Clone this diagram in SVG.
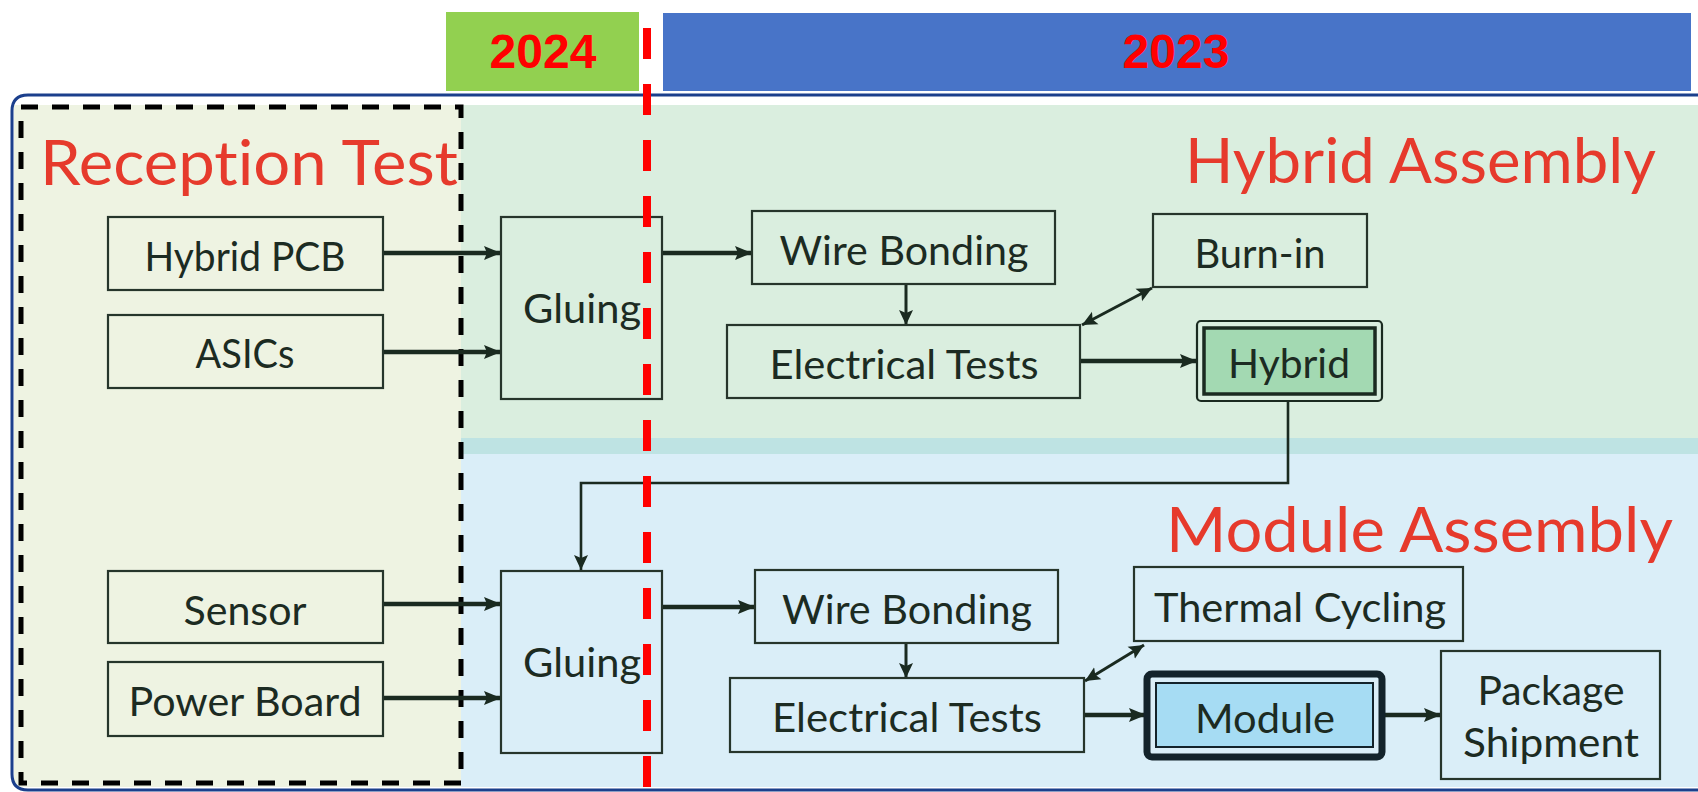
<svg xmlns="http://www.w3.org/2000/svg" width="1698" height="792" viewBox="0 0 1698 792">
<style>
.box{fill:none;stroke:#26352b;stroke-width:2.2}
.lbl{font-family:Lato,"Open Sans",sans-serif;font-size:40px;fill:#1c2b22;text-anchor:middle;font-variant-ligatures:none}
.title{font-family:Lato,"Open Sans",sans-serif;font-size:61px;fill:#e63a2c;font-variant-ligatures:none}
.year{font-family:"Liberation Sans",Arial,sans-serif;font-weight:bold;font-size:48px;fill:#ff0000;text-anchor:middle}
.arr{fill:none;stroke:#1a2a20;stroke-width:4.5}
.thin{fill:none;stroke:#1a2a20;stroke-width:3}
.link{fill:none;stroke:#1a2a20;stroke-width:2.6}
</style>
<defs>
<marker id="ah" markerUnits="userSpaceOnUse" markerWidth="18" markerHeight="18" viewBox="0 0 18 18" refX="17" refY="9" orient="auto">
<path d="M0,2 L17,9 L0,16 L3,9 Z" fill="#1a2a20"/>
</marker>
<marker id="ahs" markerUnits="userSpaceOnUse" markerWidth="16" markerHeight="16" viewBox="0 0 16 16" refX="15" refY="8" orient="auto-start-reverse">
<path d="M0,1 L15,8 L0,15 L3,8 Z" fill="#1a2a20"/>
</marker>
</defs>
<rect width="1698" height="792" fill="#ffffff"/>
<g id="panels">
<rect x="14" y="105" width="447" height="682" fill="#eef3e2"/>
<rect x="461" y="105" width="1237" height="333" fill="#daeedf"/>
<rect x="461" y="438" width="1237" height="16" fill="#bee3e3"/>
<rect x="461" y="454" width="1237" height="333" fill="#daeef8"/>
<path d="M1698,95 H28 Q12,95 12,111 V774 Q12,790 28,790 H1698" fill="none" stroke="#1b3f8c" stroke-width="3"/>
<rect x="21" y="107" width="440" height="676" fill="none" stroke="#000" stroke-width="5" stroke-dasharray="17 14"/>
</g>
<g id="years">
<rect x="446" y="12" width="193" height="79" fill="#92d050"/>
<text class="year" x="543" y="68">2024</text>
<rect x="663" y="13" width="1028" height="78" fill="#4874c8"/>
<text class="year" x="1176" y="68">2023</text>
</g>
<g id="titles">
<text class="title" x="40" y="185" textLength="418" lengthAdjust="spacingAndGlyphs">Reception Test</text>
<text class="title" x="1185" y="183" textLength="471" lengthAdjust="spacingAndGlyphs">Hybrid Assembly</text>
<text class="title" x="1166" y="552" textLength="507" lengthAdjust="spacingAndGlyphs">Module Assembly</text>
</g>
<g id="connectors">
<line class="arr" x1="383" y1="253" x2="501" y2="253" marker-end="url(#ah)"/>
<line class="arr" x1="383" y1="352" x2="501" y2="352" marker-end="url(#ah)"/>
<line class="arr" x1="662" y1="253" x2="752" y2="253" marker-end="url(#ah)"/>
<line class="thin" x1="906" y1="284" x2="906" y2="325" marker-end="url(#ahs)"/>
<line class="thin" x1="1082" y1="325" x2="1152" y2="288" marker-start="url(#ahs)" marker-end="url(#ahs)"/>
<line class="arr" x1="1080" y1="361" x2="1197" y2="361" marker-end="url(#ah)"/>
<path class="link" d="M1288,401 V483 H581 V570" marker-end="url(#ahs)"/>
<line class="arr" x1="383" y1="604" x2="501" y2="604" marker-end="url(#ah)"/>
<line class="arr" x1="383" y1="698" x2="501" y2="698" marker-end="url(#ah)"/>
<line class="arr" x1="662" y1="607" x2="755" y2="607" marker-end="url(#ah)"/>
<line class="thin" x1="906" y1="643" x2="906" y2="678" marker-end="url(#ahs)"/>
<line class="thin" x1="1085" y1="681" x2="1144" y2="645" marker-start="url(#ahs)" marker-end="url(#ahs)"/>
<line class="arr" x1="1084" y1="715" x2="1146" y2="715" marker-end="url(#ah)"/>
<line class="arr" x1="1383" y1="715" x2="1441" y2="715" marker-end="url(#ah)"/>
</g>
<g id="hybrid-pcb"><rect class="box" x="108" y="217" width="275" height="73"/><text class="lbl" x="245" y="271" textLength="201" lengthAdjust="spacingAndGlyphs">Hybrid PCB</text></g>
<g id="asics"><rect class="box" x="108" y="315" width="275" height="73"/><text class="lbl" x="245" y="368" textLength="99" lengthAdjust="spacingAndGlyphs">ASICs</text></g>
<g id="sensor"><rect class="box" x="108" y="571" width="275" height="72"/><text class="lbl" x="245" y="625" textLength="123" lengthAdjust="spacingAndGlyphs">Sensor</text></g>
<g id="power-board"><rect class="box" x="108" y="662" width="275" height="74"/><text class="lbl" x="245" y="716" textLength="233" lengthAdjust="spacingAndGlyphs">Power Board</text></g>
<g id="gluing-hybrid"><rect class="box" x="501" y="217" width="161" height="182"/><text class="lbl" x="582" y="323" textLength="118" lengthAdjust="spacingAndGlyphs">Gluing</text></g>
<g id="gluing-module"><rect class="box" x="501" y="571" width="161" height="182"/><text class="lbl" x="582" y="677" textLength="118" lengthAdjust="spacingAndGlyphs">Gluing</text></g>
<g id="wire-bonding-hybrid"><rect class="box" x="752" y="211" width="303" height="73"/><text class="lbl" x="904" y="265" textLength="249" lengthAdjust="spacingAndGlyphs">Wire Bonding</text></g>
<g id="burn-in"><rect class="box" x="1153" y="214" width="214" height="73"/><text class="lbl" x="1260" y="268" textLength="131" lengthAdjust="spacingAndGlyphs">Burn-in</text></g>
<g id="electrical-tests-hybrid"><rect class="box" x="727" y="325" width="353" height="73"/><text class="lbl" x="904" y="379" textLength="269" lengthAdjust="spacingAndGlyphs">Electrical Tests</text></g>
<g id="hybrid">
<rect x="1197" y="321" width="185" height="80" rx="4" fill="#daeedf" stroke="#1a2a20" stroke-width="2.2"/>
<rect x="1204" y="328" width="171" height="66" fill="#a3d9b2" stroke="#1a2a20" stroke-width="3.5"/>
<text class="lbl" x="1289" y="378" textLength="122" lengthAdjust="spacingAndGlyphs">Hybrid</text>
</g>
<g id="red-line"><line x1="647" y1="28" x2="647" y2="792" stroke="#ff0000" stroke-width="8" stroke-dasharray="31 25"/></g>
<g id="wire-bonding-module"><rect class="box" x="755" y="570" width="303" height="73"/><text class="lbl" x="907" y="624" textLength="250" lengthAdjust="spacingAndGlyphs">Wire Bonding</text></g>
<g id="thermal-cycling"><rect class="box" x="1134" y="567" width="329" height="74"/><text class="lbl" x="1300" y="622" textLength="292" lengthAdjust="spacingAndGlyphs">Thermal Cycling</text></g>
<g id="electrical-tests-module"><rect class="box" x="730" y="678" width="354" height="74"/><text class="lbl" x="907" y="732" textLength="270" lengthAdjust="spacingAndGlyphs">Electrical Tests</text></g>
<g id="module">
<rect x="1147" y="674" width="235" height="83" rx="5" fill="#daeef8" stroke="#13232b" stroke-width="7"/>
<rect x="1156" y="683" width="217" height="64" fill="#a6dcf3" stroke="#13232b" stroke-width="2"/>
<text class="lbl" x="1265" y="733" textLength="140" lengthAdjust="spacingAndGlyphs">Module</text>
</g>
<g id="package-shipment"><rect class="box" x="1441" y="651" width="219" height="128"/><text class="lbl" x="1551" y="705" textLength="147" lengthAdjust="spacingAndGlyphs">Package</text><text class="lbl" x="1551" y="757" textLength="176" lengthAdjust="spacingAndGlyphs">Shipment</text></g>
</svg>
